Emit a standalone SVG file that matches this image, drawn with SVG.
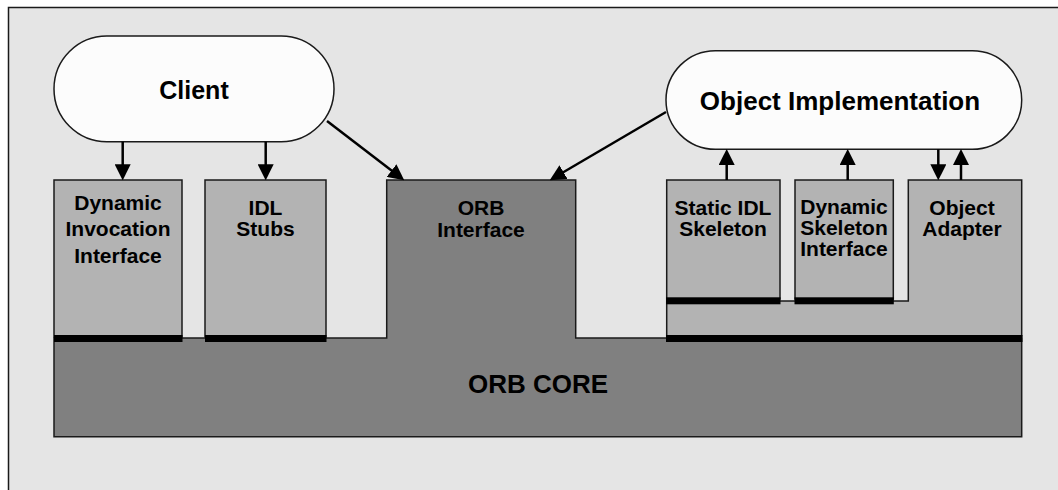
<svg xmlns="http://www.w3.org/2000/svg" width="1058" height="490" viewBox="0 0 1058 490">
<style>
.bg{fill:#e5e5e5;stroke:#1a1a1a;stroke-width:1.5}
.box{fill:#b3b3b3;stroke:#1a1a1a;stroke-width:1.5}
.core{fill:#808080;stroke:#1a1a1a;stroke-width:1.5}
.pill{fill:#fcfcfc;stroke:#1a1a1a;stroke-width:1.5}
.bar{fill:#000}
.t{font-family:"Liberation Sans",Arial,sans-serif;font-weight:bold;fill:#000;text-anchor:middle}
.s{font-size:21px}
.conn line{stroke:#000;stroke-width:2.5;marker-end:url(#ah)}
</style>
<defs>
<marker id="ah" markerUnits="userSpaceOnUse" markerWidth="16" markerHeight="16" refX="10" refY="7.5" orient="auto" viewBox="0 0 15 15">
<path d="M0,0 L15,7.5 L0,15 z" fill="#000"/>
</marker>
</defs>
<rect class="bg" x="8.5" y="7.5" width="1060" height="500"/>

<g id="orb-core">
<polygon class="core" points="54,338 386.7,338 386.7,180 575.7,180 575.7,338 1021.7,338 1021.7,436.7 54,436.7"/>
<text class="t" x="538" y="392.5" font-size="26">ORB CORE</text>
</g>
<g id="orb-interface">
<text class="t s" x="481" y="215">ORB</text>
<text class="t s" x="481" y="236.5">Interface</text>
</g>

<g id="dii">
<rect class="box" x="54" y="180" width="128" height="157"/>
<rect class="bar" x="54" y="335" width="128.5" height="7"/>
<text class="t s" x="118" y="210">Dynamic</text>
<text class="t s" x="118" y="236.3">Invocation</text>
<text class="t s" x="118" y="262.6">Interface</text>
</g>

<g id="idl-stubs">
<rect class="box" x="205" y="180" width="121" height="157"/>
<rect class="bar" x="205" y="335" width="121.5" height="7"/>
<text class="t s" x="265.5" y="215">IDL</text>
<text class="t s" x="265.5" y="236">Stubs</text>
</g>

<g id="object-adapter">
<polygon class="box" points="908.3,180 1021.7,180 1021.7,336 666.7,336 666.7,301 908.3,301"/>
<rect class="bar" x="666" y="335" width="356.5" height="7"/>
<text class="t s" x="962" y="215">Object</text>
<text class="t s" x="962" y="236">Adapter</text>
</g>

<g id="static-idl-skeleton">
<rect class="box" x="666.7" y="180" width="113.3" height="119"/>
<rect class="bar" x="666" y="297.3" width="114.5" height="7"/>
<text class="t s" x="723" y="215">Static IDL</text>
<text class="t s" x="723" y="236">Skeleton</text>
</g>

<g id="dsi">
<rect class="box" x="795" y="180" width="98.3" height="119"/>
<rect class="bar" x="794.5" y="297.3" width="99.3" height="7"/>
<text class="t s" x="844" y="214">Dynamic</text>
<text class="t s" x="844" y="235">Skeleton</text>
<text class="t s" x="844" y="256">Interface</text>
</g>

<g id="client">
<rect class="pill" x="54" y="36" width="280" height="105.7" rx="52.8" ry="52.8"/>
<text class="t" x="194" y="99" font-size="25">Client</text>
</g>

<g id="object-implementation">
<rect class="pill" x="666" y="50.7" width="355.7" height="98.6" rx="49.3" ry="49.3"/>
<text class="t" x="840" y="110" font-size="26">Object Implementation</text>
</g>

<g class="conn" id="connectors">
<line x1="122.7" y1="141.7" x2="122.7" y2="175"/>
<line x1="265.7" y1="141.7" x2="265.7" y2="175"/>
<line x1="327" y1="121" x2="400" y2="177"/>
<line x1="666" y1="112" x2="554.3" y2="177.5"/>
<line x1="726.7" y1="180" x2="726.7" y2="154.3"/>
<line x1="847.7" y1="180" x2="847.7" y2="154.3"/>
<line x1="938.3" y1="149.3" x2="938.3" y2="175"/>
<line x1="961" y1="180" x2="961" y2="154.3"/>
</g>
</svg>
